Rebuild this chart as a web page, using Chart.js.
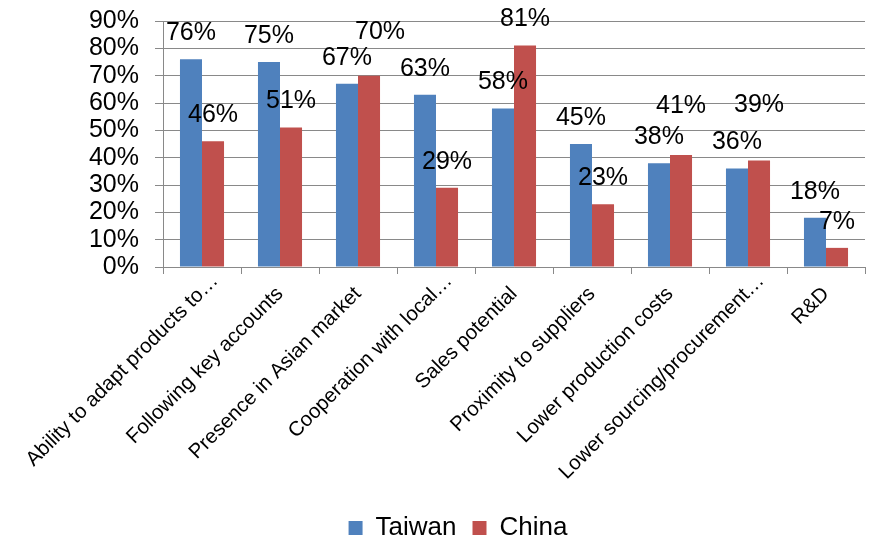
<!DOCTYPE html>
<html>
<head>
<meta charset="utf-8">
<title>Taiwan vs China</title>
<script src="https://cdn.jsdelivr.net/npm/chart.js@4/dist/chart.umd.min.js"></script>
<style>
  html, body { margin: 0; padding: 0; background: #fff; overflow: hidden; }
  #wrap { width: 869px; height: 540px; overflow: hidden; }
</style>
</head>
<body>
<div id="wrap"><canvas id="chart" width="869" height="551"></canvas></div>
<script>
// Categories and series (percent)
const categories = [
    'Ability to adapt products to\u2026',
    'Following key accounts',
    'Presence in Asian market',
    'Cooperation with local\u2026',
    'Sales potential',
    'Proximity to suppliers',
    'Lower production costs',
    'Lower sourcing/procurement\u2026',
    'R&D'
];
const taiwanValues = [76, 75, 67, 63, 58, 45, 38, 36, 18];
const chinaValues = [46, 51, 70, 29, 81, 23, 41, 39, 7];
const yTicks = [0, 10, 20, 30, 40, 50, 60, 70, 80, 90];

// Extra lift / sideways nudge (px) for value labels that were moved off crowded bars
const taiwanLabelLift = [0, 0, 0, 0, 0, 0, 0, 0, 0];
const chinaLabelLift = [0, 0, 18, 0, 0, 0, 23, 29, 0];
const chinaLabelShift = [0, 0, 11, 0, 0, 0, 0, 0, 0];

const FONT = "'Liberation Sans', Arial, sans-serif";
const GRID = '#898989';

// Value labels floating above each bar
const valueLabels = {
    id: 'valueLabels',
    afterDatasetsDraw(chart) {
        const ctx = chart.ctx;
        const lifts = [taiwanLabelLift, chinaLabelLift];
        const shifts = [null, chinaLabelShift];
        ctx.save();
        ctx.font = '25px ' + FONT;
        ctx.fillStyle = '#000';
        ctx.textAlign = 'center';
        ctx.textBaseline = 'middle';
        chart.data.datasets.forEach((ds, i) => {
            chart.getDatasetMeta(i).data.forEach((bar, j) => {
                const dx = shifts[i] ? shifts[i][j] : 0;
                ctx.fillText(ds.data[j] + '%', bar.x + dx, bar.y - 26 - lifts[i][j]);
            });
        });
        ctx.restore();
    }
};

// Truncated category names sit a little further along their slant
const slantLabels = {
    id: 'slantLabels',
    beforeDraw(chart) {
        const items = chart.scales.x.getLabelItems();
        items.forEach((item, i) => {
            if (!item.nudged && categories[i].endsWith('\u2026')) {
                item.options.translation[0] += 13;
                item.options.translation[1] -= 13;
                item.nudged = true;
            }
        });
    }
};

new Chart(document.getElementById('chart').getContext('2d'), {
    type: 'bar',
    data: {
        labels: categories,
        datasets: [{
            label: 'Taiwan',
            data: taiwanValues,
            backgroundColor: '#4F81BD',
            categoryPercentage: 0.565,
            barPercentage: 1
        }, {
            label: 'China',
            data: chinaValues,
            backgroundColor: '#C0504D',
            categoryPercentage: 0.565,
            barPercentage: 1
        }]
    },
    options: {
        responsive: false,
        animation: false,
        layout: { padding: { top: 21, right: 4, bottom: 0, left: 51 } },
        scales: {
            x: {
                grid: { display: true, drawOnChartArea: false, drawTicks: true, tickLength: 7, color: GRID },
                border: { color: GRID },
                ticks: {
                    autoSkip: false,
                    minRotation: 45,
                    maxRotation: 45,
                    padding: 8,
                    color: '#000',
                    font: { family: FONT, size: 20.5 }
                },
                afterFit(scale) {
                    scale.height = 232;
                    scale.paddingLeft = 0;
                    scale.paddingRight = 0;
                }
            },
            y: {
                min: 0,
                max: 90,
                afterBuildTicks(scale) { scale.ticks = yTicks.map(v => ({ value: v })); },
                grid: { color: GRID, tickLength: 8 },
                border: { color: GRID },
                ticks: {
                    autoSkip: false,
                    padding: 16,
                    color: '#000',
                    font: { family: FONT, size: 25 },
                    callback: v => v + '%'
                },
                afterFit(scale) {
                    scale.width = 112;
                    scale.paddingTop = 0;
                    scale.paddingBottom = 0;
                }
            }
        },
        plugins: {
            tooltip: { enabled: false },
            legend: {
                position: 'bottom',
                labels: {
                    boxWidth: 14,
                    boxHeight: 14,
                    padding: 16,
                    color: '#000',
                    font: { family: FONT, size: 26 }
                }
            }
        }
    },
    plugins: [valueLabels, slantLabels]
});
</script>
</body>
</html>
